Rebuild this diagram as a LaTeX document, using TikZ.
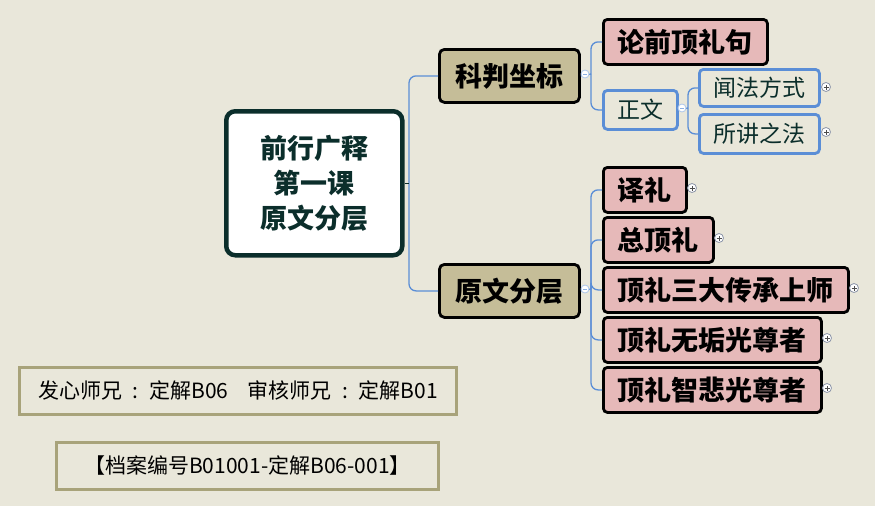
\documentclass[tikz,border=0pt]{standalone}
\usepackage{fontspec}
\setmainfont{Noto Sans CJK SC}
\definecolor{bgc}{HTML}{E9E7DA}
\definecolor{tanc}{HTML}{C5BD98}
\definecolor{pinkc}{HTML}{E6B9B9}
\definecolor{bluec}{HTML}{5B8ED6}
\definecolor{olivec}{HTML}{A8A37A}
\definecolor{tealc}{HTML}{0B2E2B}
\definecolor{iconc}{HTML}{8C95A8}
\newcommand{\wcolon}{\makebox[1.3em][c]{:}}
\tikzset{
  rootbox/.style={draw=tealc, fill=white, line width=4.5pt, rounded corners=9pt, anchor=north west, align=center, text=tealc, font=\fontsize{27}{35}\selectfont\bfseries, inner sep=0pt},
  tanbox/.style={draw=black, fill=tanc, line width=2.8pt, rounded corners=5pt, anchor=north west, font=\fontsize{27}{30}\selectfont\bfseries, inner sep=0pt},
  pinkbox/.style={draw=black, fill=pinkc, line width=2.8pt, rounded corners=4pt, anchor=north west, font=\fontsize{27}{30}\selectfont\bfseries, inner sep=0pt},
  bluebox/.style={draw=bluec, fill=bgc, line width=2.8pt, rounded corners=4pt, anchor=north west, text=tealc, font=\fontsize{23}{26}\selectfont, inner sep=0pt},
  infobox/.style={draw=olivec, line width=2.8pt, anchor=north west, font=\fontsize{21}{24}\selectfont, inner sep=0pt},
  conn/.style={draw=bluec, line width=1.3pt, rounded corners=7pt},
  minusicon/.style={circle, draw=bluec!50, fill=white, line width=0.8pt, minimum size=8pt, inner sep=0pt,
    path picture={\draw[bluec!70, line width=0.8pt] ([xshift=-2pt]path picture bounding box.center) -- ([xshift=2pt]path picture bounding box.center);}},
  plusicon/.style={circle, draw=iconc, fill=white, line width=0.8pt, minimum size=9pt, inner sep=0pt,
    path picture={\draw[black!70, line width=0.8pt] ([xshift=-2.5pt]path picture bounding box.center) -- ([xshift=2.5pt]path picture bounding box.center) ([yshift=-2.5pt]path picture bounding box.center) -- ([yshift=2.5pt]path picture bounding box.center);}}
}
\begin{document}
\begin{tikzpicture}[x=1pt,y=-1pt]
\fill[bgc] (0,0) rectangle (875,506);
\useasboundingbox (0,0) rectangle (875,506);

% root
\node[rootbox, minimum width=176pt, minimum height=144pt] (root) at (224,109) {前行广释\\第一课\\原文分层};

% level 1
\node[tanbox, minimum width=140pt, minimum height=53pt] (kp) at (438,48) {科判坐标};
\node[tanbox, minimum width=140pt, minimum height=53pt] (yw) at (438,263) {原文分层};

% level 2 under kp
\node[pinkbox, minimum width=164pt, minimum height=45pt] (lq) at (602,18) {论前顶礼句};
\node[bluebox, minimum width=74pt, minimum height=39pt] (zw) at (602,89) {正文};

% level 3 under zw
\node[bluebox, minimum width=120pt, minimum height=37pt] (wf) at (698,68) {闻法方式};
\node[bluebox, minimum width=120pt, minimum height=39pt] (sj) at (698,113) {所讲之法};

% level 2 under yw
\node[pinkbox, minimum width=83pt, minimum height=45pt] (a1) at (602,166) {译礼};
\node[pinkbox, minimum width=110pt, minimum height=45pt] (a2) at (602,216) {总顶礼};
\node[pinkbox, minimum width=245pt, minimum height=45pt] (a3) at (602,266) {顶礼三大传承上师};
\node[pinkbox, minimum width=218pt, minimum height=45pt] (a4) at (602,316) {顶礼无垢光尊者};
\node[pinkbox, minimum width=218pt, minimum height=45pt] (a5) at (602,366) {顶礼智悲光尊者};

% info boxes
\node[infobox, minimum width=437pt, minimum height=47pt] (info1) at (18,366) {发心师兄\wcolon 定解B06\hspace{0.9em}审核师兄\wcolon 定解B01};
\node[infobox, minimum width=382pt, minimum height=47pt] (info2) at (55,441) {【档案编号B01001-定解B06-001】};

% connectors root
\coordinate (rj) at (409,181);
\draw[conn] (rj) |- (kp.west);
\draw[conn] (rj) |- (yw.west);
\draw[tealc, line width=1.5pt] (root.east) -- (root.east -| rj);

% connectors kp
\coordinate (kj) at (591,74);
\draw[conn] (kj) |- (lq.west);
\draw[conn] (kj) |- (zw.west);
\draw[bluec, line width=1.3pt] (kp.east) -- (kj);
\node[minusicon] (km) at (585,74) {};

% connectors zw
\coordinate (zj) at (688,108);
\draw[conn] (zj) |- (wf.west);
\draw[conn] (zj) |- (sj.west);
\draw[bluec, line width=1.3pt] (zw.east) -- (zj);
\node[minusicon] (zm) at (682,108) {};

% connectors yw
\coordinate (yj) at (591,289);
\foreach \n in {a1,a2,a3,a4,a5} {\draw[conn] (yj) |- (\n.west);}
\draw[bluec, line width=1.3pt] (yw.east) -- (yj);
\node[minusicon] (ym) at (585,289) {};

% plus icons
\node[plusicon] (p1) at (826,87) {};
\node[plusicon] (p2) at (826,132) {};
\node[plusicon] (p3) at (692,188) {};
\node[plusicon] (p4) at (719,238) {};
\node[plusicon] (p5) at (854,288) {};
\node[plusicon] (p6) at (827,338) {};
\node[plusicon] (p7) at (827,388) {};
\end{tikzpicture}
\end{document}
